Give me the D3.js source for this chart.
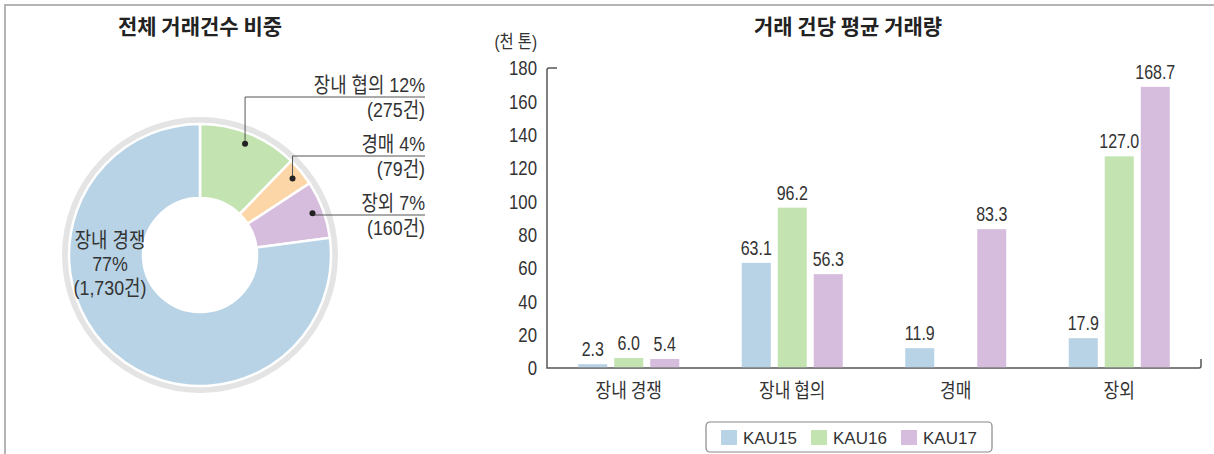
<!DOCTYPE html>
<html>
<head>
<meta charset="utf-8">
<script src="https://cdn.jsdelivr.net/npm/d3@7"></script>
<style>
  html, body { margin: 0; padding: 0; background: #fff; }
  svg { display: block; }
  .kr { font-family: "Noto Sans CJK KR", "Noto Sans", sans-serif; }
  .lab { font-family: "Liberation Sans", Arial, "Noto Sans CJK KR", sans-serif; }
</style>
</head>
<body>
<svg id="chart" width="1214" height="454"></svg>
<script>
// ---- data ----
const pieCategories = ["장내 협의", "경매", "장외", "장내 경쟁"];
const pieCounts = [275, 79, 160, 1730];
const piePercents = ["12%", "4%", "7%", "77%"];
const pieColors = ["#c3e3b1", "#fdd6a8", "#d7bddd", "#b8d3e6"];

const barCategories = ["장내 경쟁", "장내 협의", "경매", "장외"];
const seriesNames = ["KAU15", "KAU16", "KAU17"];
const kau15 = [2.3, 63.1, 11.9, 17.9];
const kau16 = [6.0, 96.2, null, 127.0];
const kau17 = [5.4, 56.3, 83.3, 168.7];
const seriesColors = ["#b8d3e6", "#c3e3b1", "#d7bddd"];
const yTicks = [0, 20, 40, 60, 80, 100, 120, 140, 160, 180];

const svg = d3.select("#chart");
const textColor = "#333";

// condensed label: horizontally squeezed text anchored at (x, y)
function label(parent, x, y, str, size, anchor, squeeze) {
  return parent.append("text").attr("class", "lab")
    .attr("transform", `translate(${x},${y}) scale(${squeeze || 0.82},1)`)
    .attr("text-anchor", anchor || "start")
    .attr("font-size", size).attr("fill", textColor)
    .text(str);
}

// ---- frame ----
svg.append("path")
  .attr("d", "M5,454 L5,5 L1214,5")
  .attr("fill", "none").attr("stroke", "#b4b4b4").attr("stroke-width", 2);

// ---- donut: share of trade counts ----
svg.append("text").attr("class", "kr")
  .attr("x", 200).attr("y", 34).attr("text-anchor", "middle")
  .attr("font-size", 21).attr("font-weight", 700).attr("fill", "#222")
  .text("전체 거래건수 비중");

const cx = 200, cy = 255;
const g1 = svg.append("g").attr("transform", `translate(${cx},${cy})`);

g1.append("circle").attr("r", 134.5)
  .attr("fill", "none").attr("stroke", "#e4e4e4").attr("stroke-width", 7);

const pie = d3.pie().sort(null).value(d => d.count);
const pieData = pie(pieCategories.map((c, i) => ({ name: c, count: pieCounts[i], pct: piePercents[i], color: pieColors[i] })));
const arc = d3.arc().innerRadius(57).outerRadius(131);

g1.selectAll("path.slice").data(pieData).join("path")
  .attr("class", "slice")
  .attr("d", arc)
  .attr("fill", d => d.data.color)
  .attr("stroke", "#fff").attr("stroke-width", 2.5);

// leader-line labels for the three small slices
const dotArc = d3.arc().innerRadius(110).outerRadius(130);
const labelX = 425 - cx;
const rowY = [97, 156, 215].map(v => v - cy);
pieData.slice(0, 3).forEach((d, i) => {
  const [px, py] = dotArc.centroid(d);
  const ly = rowY[i];
  g1.append("path")
    .attr("d", `M${px},${py} L${px},${ly} L${labelX},${ly}`)
    .attr("fill", "none").attr("stroke", "#555").attr("stroke-width", 1);
  g1.append("circle").attr("cx", px).attr("cy", py).attr("r", 3).attr("fill", "#222");
  label(g1, labelX, ly - 5, `${d.data.name} ${d.data.pct}`, 21, "end", 0.85);
  label(g1, labelX, ly + 20, `(${d3.format(",")(d.data.count)}건)`, 21, "end", 0.85);
});

// label inside the largest slice
const big = pieData[3];
[big.data.name, big.data.pct, `(${d3.format(",")(big.data.count)}건)`].forEach((t, i) => {
  label(g1, 110 - cx, 247 - cy + i * 24, t, 21, "middle", 0.85);
});

// ---- grouped bars: average volume per trade ----
svg.append("text").attr("class", "kr")
  .attr("x", 848).attr("y", 34).attr("text-anchor", "middle")
  .attr("font-size", 21).attr("font-weight", 700).attr("fill", "#222")
  .text("거래 건당 평균 거래량");

const x0 = d3.scaleBand().domain(barCategories).range([547, 1201]).paddingInner(0).paddingOuter(0);
const x1 = d3.scaleBand().domain(seriesNames).range([-50.5, 50.5]).paddingInner(0.194).paddingOuter(0);
const y = d3.scaleLinear().domain([0, 180]).range([368, 68]);

const yAxis = svg.append("g").attr("transform", "translate(537,0)")
  .call(d3.axisLeft(y).tickValues(yTicks).tickSize(0).tickPadding(0));
yAxis.select(".domain").remove();
yAxis.selectAll("text").attr("class", "lab")
  .attr("font-size", 21).attr("fill", textColor).attr("font-family", null)
  .attr("transform", "scale(0.8,1)");

label(svg, 537, 48, "(천 톤)", 18, "end", 0.85);

// axis frame: vertical axis with a hook at the top, baseline with a hook at the end
const y0 = y(0), yTop = y(180), xL = x0.range()[0], xR = x0.range()[1];
svg.append("path")
  .attr("d", `M${xL + 10},${yTop} L${xL + 2},${yTop} Q${xL},${yTop} ${xL},${yTop + 2} L${xL},${y0} L${xR - 2},${y0} Q${xR},${y0} ${xR},${y0 - 2} L${xR},${y0 - 9}`)
  .attr("fill", "none").attr("stroke", "#555").attr("stroke-width", 1.5);

const series = [kau15, kau16, kau17];
const barData = [];
barCategories.forEach((c, i) => {
  seriesNames.forEach((s, j) => {
    if (series[j][i] != null) barData.push({ cat: c, series: s, value: series[j][i], color: seriesColors[j] });
  });
});

const bars = svg.append("g");
bars.selectAll("rect").data(barData).join("rect")
  .attr("x", d => x0(d.cat) + x0.bandwidth() / 2 + x1(d.series))
  .attr("y", d => y(d.value))
  .attr("width", x1.bandwidth())
  .attr("height", d => y0 - y(d.value) - 0.75)
  .attr("fill", d => d.color);

barData.forEach(d => {
  const bx = x0(d.cat) + x0.bandwidth() / 2 + x1(d.series) + x1.bandwidth() / 2;
  label(bars, bx, y(d.value) - 8, d3.format(".1f")(d.value), 20, "middle", 0.8);
});

const xAxis = svg.append("g").attr("transform", `translate(0,${y0})`)
  .call(d3.axisBottom(x0).tickSize(0).tickPadding(16));
xAxis.select(".domain").remove();
xAxis.selectAll("text").attr("class", "kr")
  .attr("font-size", 20).attr("fill", textColor).attr("font-family", null)
  .attr("transform", "scale(0.85,1)");

// legend
const legend = svg.append("g").attr("transform", "translate(706,422)");
legend.append("rect").attr("width", 286).attr("height", 30).attr("rx", 4)
  .attr("fill", "#fff").attr("stroke", "#888").attr("stroke-width", 1.2);
const legendStep = 90;
seriesNames.forEach((s, i) => {
  const lg = legend.append("g").attr("transform", `translate(${15 + i * legendStep},0)`);
  lg.append("rect").attr("x", 0).attr("y", 8).attr("width", 16).attr("height", 15).attr("fill", seriesColors[i]);
  lg.append("text").attr("x", 22).attr("y", 22)
    .attr("font-family", "'Liberation Sans', Arial, sans-serif")
    .attr("font-size", 17).attr("fill", textColor).text(s);
});
</script>
</body>
</html>
